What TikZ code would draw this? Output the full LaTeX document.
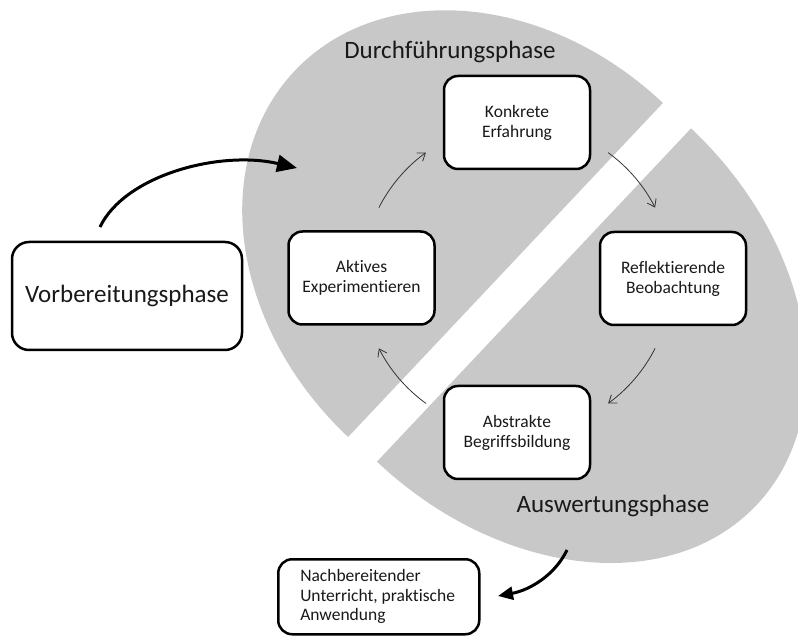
\documentclass[tikz,border=0pt]{standalone}
\usepackage{fontspec}
\setmainfont{Carlito}[Ligatures=NoCommon]
\usetikzlibrary{arrows.meta,calc}
\definecolor{blob}{RGB}{200,200,200}
\definecolor{txt}{RGB}{25,25,25}
\frenchspacing
\begin{document}
\begin{tikzpicture}[x=1pt,y=1pt,
  box/.style={draw=black, line width=2.5pt, fill=white, rounded corners=14pt, align=center, text=txt,
    font=\fontsize{17.5}{20}\selectfont, minimum width=146pt, minimum height=93pt, inner sep=2pt},
  big/.style={font=\fontsize{25}{30}\selectfont, text=txt},
  cyc/.style={draw=black!80, line width=0.8pt, -{Straight Barb[length=7pt,width=10pt]}},
  heavy/.style={line width=3pt, -{Triangle[length=20pt,width=17pt]}},
  heavysmall/.style={line width=3pt, -{Triangle[length=15pt,width=13pt]}}
]
\useasboundingbox (0,0) rectangle (798,635);
\begin{scope}
  \clip (0,0) rectangle (798,635);
  \fill[blob, shift={(505.5,365)}, rotate=136.7] (0,-229.5) arc[start angle=-90,end angle=90,x radius=290,y radius=229.5] -- cycle;
  \fill[blob, shift={(534,340)}, rotate=-43.3] (0,-229) arc[start angle=-90,end angle=90,x radius=306,y radius=229] -- cycle;
\end{scope}

\node[big, anchor=base] (durch) at (450,576) {Durchführungsphase};
\node[big, anchor=base west] (ausw) at (513,122) {Auswertungsphase};

\node[box] (konk) at (517,512.5) {Konkrete\\Erfahrung};
\node[box] (akt) at (361.5,357) {Aktives\\Experimentieren};
\node[box] (refl) at (673,356.5) {Reflektierende\\Beobachtung};
\node[box] (abs) at (517,202.5) {Abstrakte\\Begriffsbildung};
\node[box, minimum width=230pt, minimum height=108pt, rounded corners=17pt,
  font=\fontsize{25}{30}\selectfont] (vor) at (127,339) {Vorbereitungsphase};
\node[box, anchor=north west, minimum width=201pt, minimum height=75pt, align=flush left,
  text width=157pt, inner xsep=22pt, font=\fontsize{17.5}{19.5}\selectfont] (nach) at (277,77)
  {Nachbereitender\\Unterricht, praktische\\Anwendung};

\coordinate (c) at (517,357);
\coordinate (a1) at ($(c)+(153:155)$);
\coordinate (b1) at ($(c)+(54:155)$);
\coordinate (c1) at ($(c)+(-27:155)$);
\coordinate (d1) at ($(c)+(234:155)$);
\draw[cyc] (a1) arc[start angle=153,end angle=126,radius=155];
\draw[cyc] (b1) arc[start angle=54,end angle=27,radius=155];
\draw[cyc] (c1) arc[start angle=-27,end angle=-54,radius=155];
\draw[cyc] (d1) arc[start angle=234,end angle=207,radius=155];

\coordinate (vs) at (100,408);
\coordinate (ve) at (297,467);
\draw[heavy] (vs) .. controls (125,460) and (220,485) .. (ve);
\coordinate (ns) at (567,85);
\coordinate (ne) at (498,39);
\draw[heavysmall] (ns) .. controls (555,60) and (530,45) .. (ne);
\end{tikzpicture}
\end{document}
